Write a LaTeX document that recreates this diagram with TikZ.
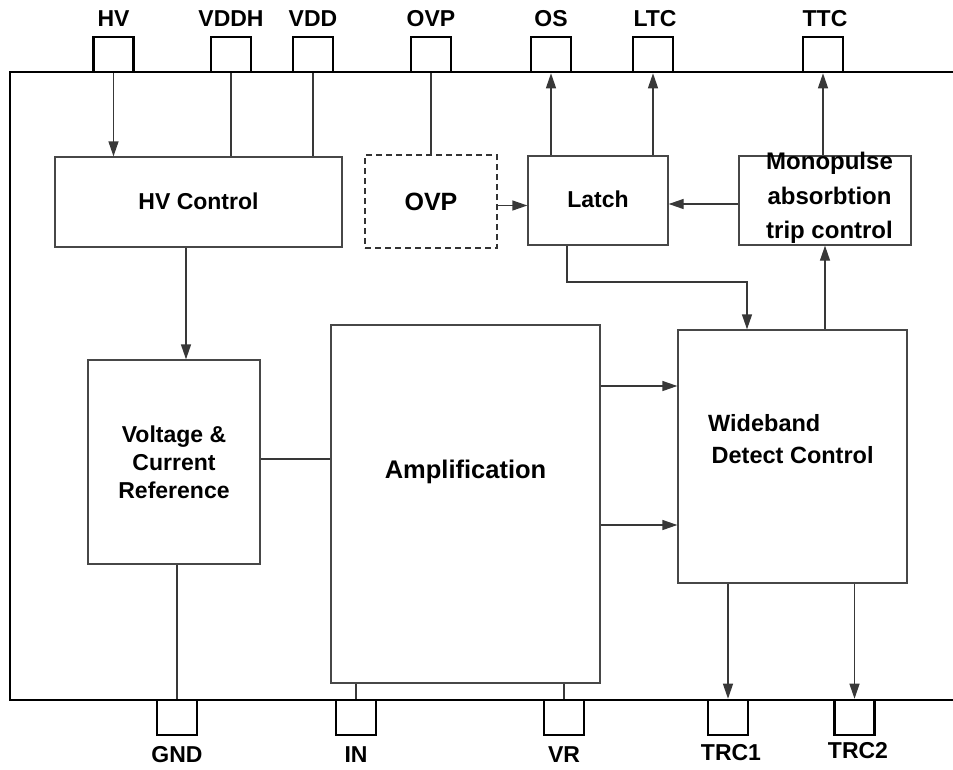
\documentclass[tikz,border=0pt]{standalone}
\usepackage{fontspec}
\setmainfont{Liberation Sans}
\usetikzlibrary{arrows.meta}
\begin{document}
\begin{tikzpicture}[x=1pt,y=-1pt,
  frame/.style={line width=2.6pt,black},
  pin/.style={draw=black,line width=2.6pt,fill=white,minimum width=40pt,minimum height=35pt,inner sep=0pt},
  pinlbl/.style={font=\bfseries\fontsize{23}{26}\selectfont,inner sep=0pt},
  box/.style={draw=black!72,line width=1.3pt,inner sep=0pt,fill=white},
  lbl/.style={font=\bfseries\fontsize{23}{28}\selectfont,align=center,inner sep=0pt},
  conn/.style={draw=black!78,line width=1.3pt},
  arr/.style={conn,-{Triangle[length=15pt,width=10pt]}}]
\useasboundingbox (0,0) rectangle (953,769);
% frame
\draw[frame] (953,72) -- (10,72) -- (10,700) -- (953,700);
% top pins
\node[pin] (pHV)   at (113.5,54.5) {};
\node[pin] (pVDDH) at (231,54.5) {};
\node[pin] (pVDD)  at (313,54.5) {};
\node[pin] (pOVP)  at (431,54.5) {};
\node[pin] (pOS)   at (551,54.5) {};
\node[pin] (pLTC)  at (653,54.5) {};
\node[pin] (pTTC)  at (823,54.5) {};
\node[pinlbl] (tHV)   at (113.5,18.5) {HV};
\node[pinlbl] (tVDDH) at (231,18.5) {VDDH};
\node[pinlbl] (tVDD)  at (313,18.5) {VDD};
\node[pinlbl] (tOVP)  at (431,18.5) {OVP};
\node[pinlbl] (tOS)   at (551,18.5) {OS};
\node[pinlbl] (tLTC)  at (655,18.5) {LTC};
\node[pinlbl] (tTTC)  at (825,18.5) {TTC};
% bottom pins
\node[pin] (pGND)  at (177,717.5) {};
\node[pin] (pIN)   at (356,717.5) {};
\node[pin] (pVR)   at (564,717.5) {};
\node[pin] (pTRC1) at (728,717.5) {};
\node[pin] (pTRC2) at (854.5,717.5) {};
\node[pinlbl] (tGND)  at (177,754.5) {GND};
\node[pinlbl] (tIN)   at (356,754.5) {IN};
\node[pinlbl] (tVR)   at (564,754.5) {VR};
\node[pinlbl] (tTRC1) at (731,753) {TRC1};
\node[pinlbl] (tTRC2) at (858,751) {TRC2};
% blocks
\node[box,minimum width=287pt,minimum height=90pt] (hvc) at (198.5,202) {};
\node[lbl] at (198.5,201) {HV Control};
\node[box,draw=black!80,dashed,dash pattern=on 6pt off 4pt,minimum width=132pt,minimum height=93pt] (ovp) at (431,201.5) {};
\node[lbl,font=\bfseries\fontsize{25}{30}\selectfont] at (431,202) {OVP};
\node[box,minimum width=140pt,minimum height=89pt] (latch) at (598,200.5) {};
\node[lbl] at (598,199) {Latch};
\node[box,minimum width=172pt,minimum height=89pt] (mono) at (825,200.5) {};
\node[lbl,font=\bfseries\fontsize{24}{34.5}\selectfont] at (829.5,198) {Monopulse\\absorbtion\\trip control};
\node[box,minimum width=172pt,minimum height=204pt] (vcr) at (174,462) {};
\node[lbl] at (174,462) {Voltage \&\\Current\\Reference};
\node[box,minimum width=269pt,minimum height=358pt] (amp) at (465.5,504) {};
\node[lbl,font=\bfseries\fontsize{25.5}{30}\selectfont] at (465.5,472) {Amplification};
\node[box,minimum width=229pt,minimum height=253pt] (wide) at (792.5,456.5) {};
\node[lbl,align=left,anchor=west,font=\bfseries\fontsize{23.5}{32}\selectfont] at (708,439) {Wideband\\\hspace*{3.5pt}Detect Control};
% coordinates
\coordinate (kL) at (567,282);
\coordinate (kR) at (747,282);
\coordinate (kV) at (186,300);
\coordinate (kA1) at (640,386);
\coordinate (kA2) at (640,525);
% connectors
\draw[arr] (pHV.south) -- (hvc.north -| pHV);
\draw[conn] (pVDDH.south) -- (hvc.north -| pVDDH);
\draw[conn] (pVDD.south) -- (hvc.north -| pVDD);
\draw[conn] (pOVP.south) -- (ovp.north -| pOVP);
\draw[arr] (latch.north -| pOS) -- (pOS.south);
\draw[arr] (latch.north -| pLTC) -- (pLTC.south);
\draw[arr] (mono.north -| pTTC) -- (pTTC.south);
\draw[arr] ([yshift=-4pt]ovp.east) -- ([yshift=-4pt]ovp.east -| latch.west);
\draw[arr] ([yshift=-3.5pt]mono.west) -- ([yshift=-3.5pt]mono.west -| latch.east);
\draw[arr] (latch.south -| kL) -- (kL) -- (kR) -- (wide.north -| kR);
\draw[arr] (wide.north -| mono) -- (mono.south);
\draw[arr] (hvc.south -| kV) -- (vcr.north -| kV);
\draw[conn] ([yshift=3pt]vcr.east) -- ([yshift=3pt]vcr.east -| amp.west);
\draw[conn] (vcr.south -| pGND) -- (pGND.north);
\draw[conn] (amp.south -| pIN) -- (pIN.north);
\draw[conn] (amp.south -| pVR) -- (pVR.north);
\draw[arr] (amp.east |- kA1) -- (wide.west |- kA1);
\draw[arr] (amp.east |- kA2) -- (wide.west |- kA2);
\draw[arr] (wide.south -| pTRC1) -- (pTRC1.north);
\draw[arr] (wide.south -| pTRC2) -- (pTRC2.north);
\end{tikzpicture}
\end{document}
